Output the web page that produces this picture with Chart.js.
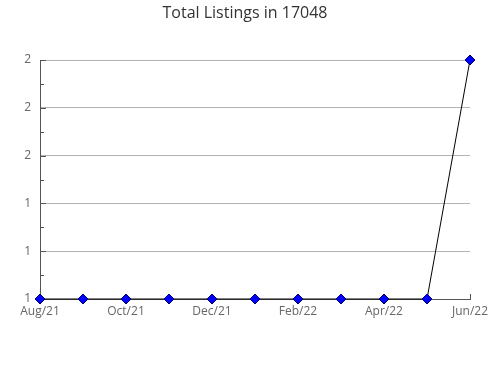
<!DOCTYPE html>
<html>
<head>
<meta charset="utf-8">
<script src="https://cdn.jsdelivr.net/npm/chart.js@4/dist/chart.umd.min.js"></script>
<style>
  body { margin: 0; background: #fff; }
  #wrap { width: 490px; height: 380px; }
</style>
</head>
<body>
<div id="wrap"><canvas id="myChart" width="490" height="380"></canvas></div>
<script>
const months = ['Aug/21', 'Sep/21', 'Oct/21', 'Nov/21', 'Dec/21', 'Jan/22', 'Feb/22', 'Mar/22', 'Apr/22', 'May/22', 'Jun/22']
const listings = [1, 1, 1, 1, 1, 1, 1, 1, 1, 1, 2]
const yTicks = [1, 1.2, 1.4, 1.6, 1.8, 2]

// small tick marks drawn inside the plot, like the original
const innerTicks = {
    id: 'innerTicks',
    beforeDatasetsDraw(chart) {
        const c = chart.ctx
        const x = chart.scales.x
        const y = chart.scales.y
        const area = chart.chartArea
        c.save()
        c.strokeStyle = '#555'
        c.lineWidth = 1
        c.beginPath()
        for (let i = 0; i < yTicks.length - 1; i++) {
            const mid = (yTicks[i] + yTicks[i + 1]) / 2
            const py = Math.round(y.getPixelForValue(mid)) + 0.5
            c.moveTo(area.left, py)
            c.lineTo(area.left + 4, py)
        }
        for (let i = 0; i < yTicks.length; i++) {
            const py = Math.round(y.getPixelForValue(yTicks[i])) + 0.5
            c.moveTo(area.left, py)
            c.lineTo(area.left + 6, py)
        }
        for (let i = 0; i < months.length; i += 2) {
            const px = Math.round(x.getPixelForValue(i)) + 0.5
            c.moveTo(px, area.bottom)
            c.lineTo(px, area.bottom - 5)
        }
        c.stroke()
        c.restore()
    }
}

const ctx = document.getElementById('myChart').getContext('2d')
const myChart = new Chart(ctx, {
    type: 'line',
    data: {
        labels: months,
        datasets: [{
            label: 'Total Listings',
            data: listings,
            borderColor: '#000',
            borderWidth: 1,
            pointStyle: 'rectRot',
            pointRadius: 5,
            pointBackgroundColor: '#0000ff',
            pointBorderColor: '#000066',
            pointBorderWidth: 1,
            tension: 0,
            clip: false
        }]
    },
    plugins: [innerTicks],
    options: {
        responsive: false,
        animation: false,
        layout: {
            padding: { left: 10, right: 10, top: 0, bottom: 61 }
        },
        plugins: {
            legend: { display: false },
            tooltip: { enabled: false },
            title: {
                display: true,
                text: 'Total Listings in 17048',
                color: '#333',
                font: { family: 'Open Sans', size: 16, weight: 'normal' },
                padding: { top: 4, bottom: 36.8 }
            }
        },
        scales: {
            x: {
                offset: false,
                grid: { display: false, drawTicks: false },
                border: { color: '#555' },
                ticks: {
                    autoSkip: false,
                    maxRotation: 0,
                    padding: 5,
                    color: '#666',
                    font: { family: 'Open Sans', size: 12 },
                    callback: (v, i) => i % 2 === 0 ? months[i] : ''
                },
                afterFit: s => {
                    s.height = 20
                    s.paddingLeft = 0
                    s.paddingRight = 0
                }
            },
            y: {
                min: 1,
                max: 2,
                grid: { color: '#b3b3b3', drawTicks: false },
                border: { color: '#555' },
                afterBuildTicks: s => { s.ticks = yTicks.map(v => ({ value: v })) },
                ticks: {
                    padding: 9,
                    color: '#666',
                    font: { family: 'Open Sans', size: 12 },
                    callback: v => Math.round(v)
                },
                afterFit: s => {
                    s.width = 30
                    s.paddingTop = 0
                    s.paddingBottom = 0
                }
            },
            // empty right-hand box, only to keep the plot's right edge where the original has it
            yRight: {
                position: 'right',
                display: true,
                grid: { display: false, drawTicks: false },
                border: { display: false },
                ticks: { display: false },
                afterFit: s => { s.width = 10 }
            }
        }
    }
})
</script>
</body>
</html>
